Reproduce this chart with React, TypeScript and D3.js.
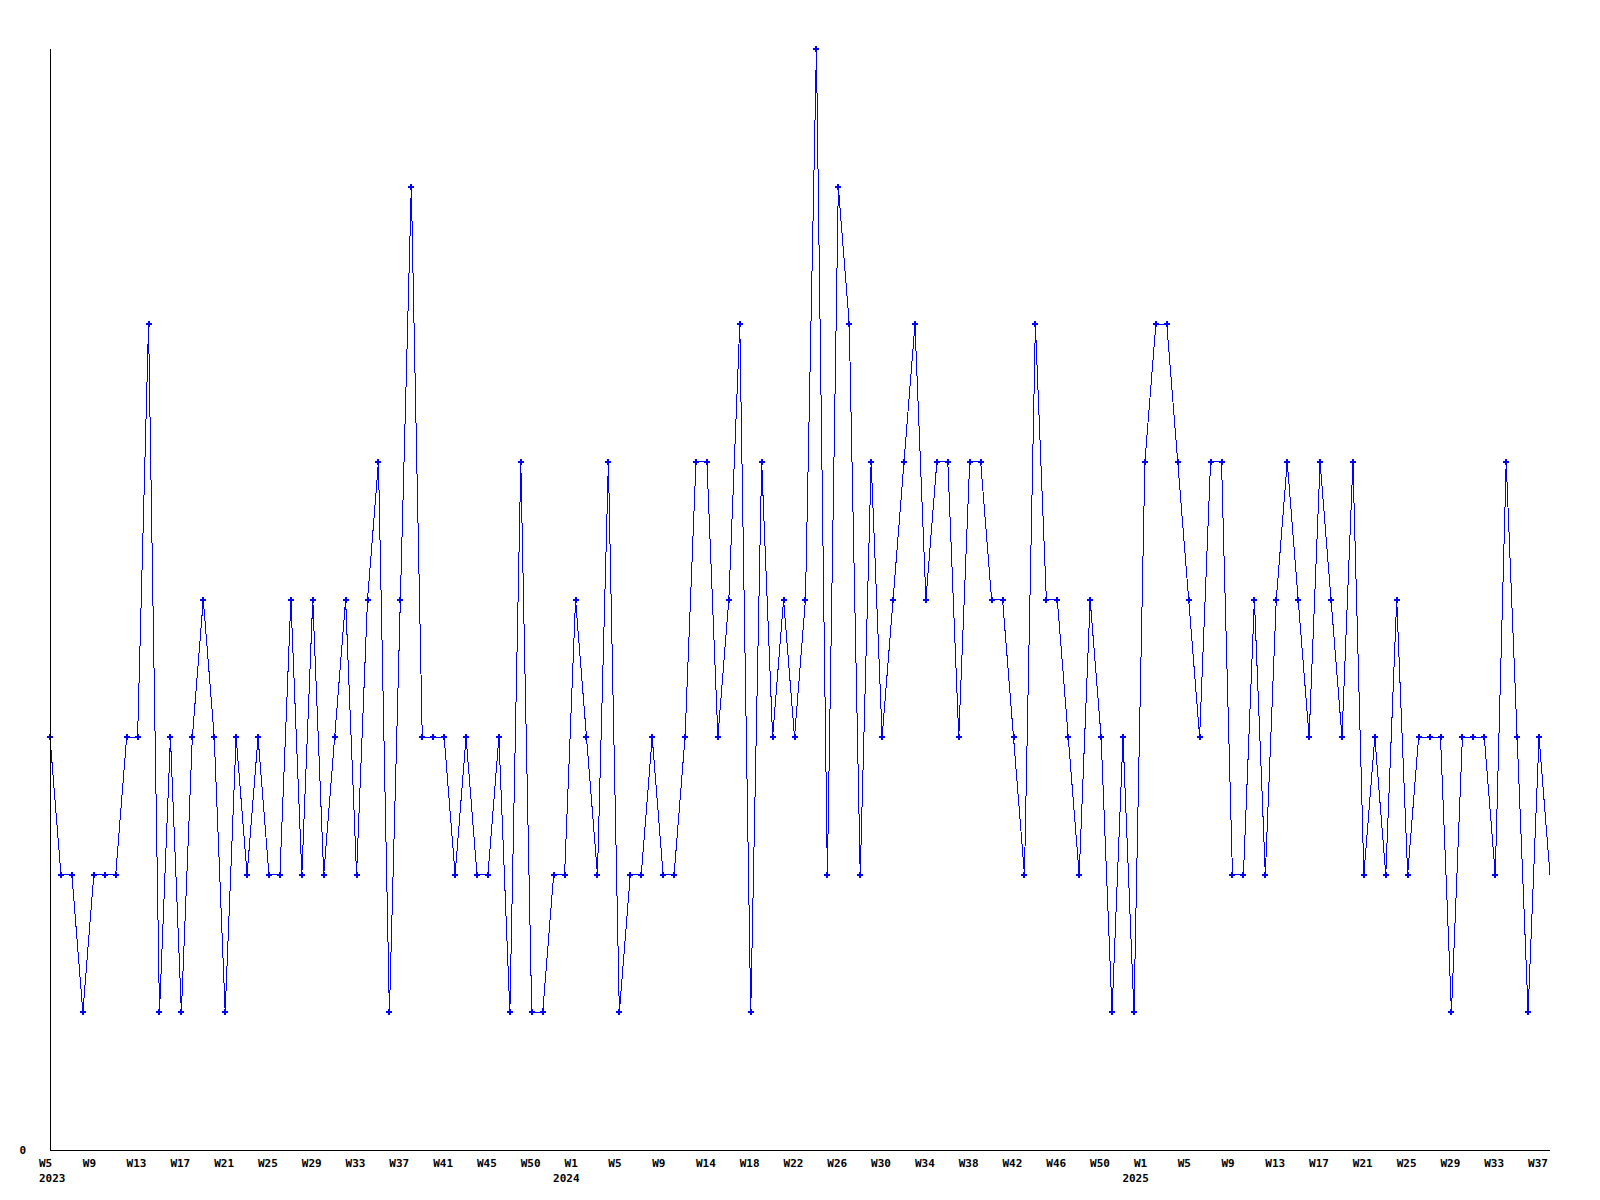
import React from "react";
import * as d3 from "d3";

// weekly counts, W5 2023 .. W38 2025
const values = [
  3, 2, 2, 1, 2, 2, 2, 3, 3, 6,
  1, 3, 1, 3, 4, 3, 1, 3, 2, 3,
  2, 2, 4, 2, 4, 2, 3, 4, 2, 4,
  5, 1, 4, 7, 3, 3, 3, 2, 3, 2,
  2, 3, 1, 5, 1, 1, 2, 2, 4, 3,
  2, 5, 1, 2, 2, 3, 2, 2, 3, 5,
  5, 3, 4, 6, 1, 5, 3, 4, 3, 4,
  8, 2, 7, 6, 2, 5, 3, 4, 5, 6,
  4, 5, 5, 3, 5, 5, 4, 4, 3, 2,
  6, 4, 4, 3, 2, 4, 3, 1, 3, 1,
  5, 6, 6, 5, 4, 3, 5, 5, 2, 2,
  4, 2, 4, 5, 4, 3, 5, 4, 3, 5,
  2, 3, 2, 4, 2, 3, 3, 3, 1, 3,
  3, 3, 2, 5, 3, 1, 3, 2,
];

// one label every 4 points
const weekLabels = [
  "W5", "W9", "W13", "W17", "W21", "W25", "W29", "W33", "W37", "W41", "W45", "W50",
  "W1", "W5", "W9", "W14", "W18", "W22", "W26", "W30", "W34", "W38", "W42", "W46", "W50",
  "W1", "W5", "W9", "W13", "W17", "W21", "W25", "W29", "W33", "W37",
];
const yearLabels = ["2023", "2024", "2025"];
const yearTickIndex = [0, 12, 25];
const tickStep = 4;

export default function App() {
  const width = 1600;
  const height = 1200;
  const left = 50;
  const right = 1550;
  const top = 49;
  const bottom = 1150;

  const x = d3.scaleLinear().domain([0, values.length - 1]).range([left, right]);
  const y = d3.scaleLinear().domain([0, d3.max(values) as number]).range([bottom, top]);

  const line = d3
    .line<number>()
    .x((d, i) => x(i))
    .y((d) => y(d));

  const marker = d3.symbol().type(d3.symbolCross).size(20)() as string;

  const font = "'DejaVu Sans Mono', monospace";

  return (
    <svg
      width={width}
      height={height}
      style={{ position: "absolute", left: 0, top: 0, background: "#fff" }}
    >
      <path
        d={line(values) as string}
        fill="none"
        stroke="#0000ff"
        strokeWidth={1}
        shapeRendering="crispEdges"
      />
      {values.slice(0, -1).map((v, i) => (
        <path
          key={i}
          d={marker}
          transform={`translate(${x(i)},${y(v)})`}
          fill="#0000ff"
          shapeRendering="crispEdges"
        />
      ))}

      {/* axes */}
      <line x1={left} x2={left} y1={top} y2={bottom} stroke="#000" shapeRendering="crispEdges" />
      <line x1={left} x2={right} y1={bottom} y2={bottom} stroke="#000" shapeRendering="crispEdges" />

      <text
        x={26}
        y={bottom + 4}
        textAnchor="end"
        fontFamily={font}
        fontWeight="bold"
        fontSize={11}
        fill="#000"
      >
        {y.domain()[0]}
      </text>

      {weekLabels.map((label, k) => (
        <text
          key={k}
          x={x(k * tickStep) - 11}
          y={bottom + 17}
          fontFamily={font}
          fontWeight="bold"
          fontSize={11}
          fill="#000"
        >
          {label}
        </text>
      ))}
      {yearLabels.map((label, j) => (
        <text
          key={label}
          x={Math.max(x(yearTickIndex[j] * tickStep) - 22.5, left - 11)}
          y={bottom + 32}
          fontFamily={font}
          fontWeight="bold"
          fontSize={11}
          fill="#000"
        >
          {label}
        </text>
      ))}
    </svg>
  );
}
